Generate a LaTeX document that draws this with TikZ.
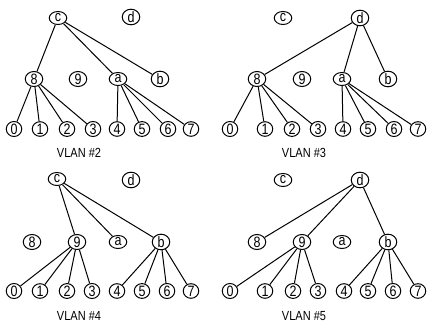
\documentclass[tikz,border=0pt]{standalone}
\usepackage{fontspec}
\setmainfont{Liberation Sans}
\usetikzlibrary{shapes.geometric}
% slightly tall lettering
\newcommand\tallglyph[1]{\scalebox{1}[1.2]{#1}}
\tikzset{
  switch/.style={draw, ellipse, line width=1pt, minimum width=17.5pt,
    minimum height=13pt, inner sep=0pt, font=\fontsize{12.5}{12.5}\selectfont},
  leaf/.style={switch, minimum width=15.5pt},
  link/.style={line width=1pt},
  vlanlabel/.style={font=\fontsize{11}{11}\selectfont, inner sep=0pt}
}
\begin{document}
\begin{tikzpicture}[x=1pt,y=-1pt]
\useasboundingbox (0,0) rectangle (432,326);

% ---------------- VLAN #2 ----------------
\node[switch] (ac) at (58,18) {\tallglyph{c}};
\node[switch] (ad) at (131,17) {\tallglyph{d}};
\node[switch] (a8) at (34,79) {\tallglyph{8}};
\node[switch] (a9) at (78,79) {\tallglyph{9}};
\node[switch] (aa) at (118,79) {\tallglyph{a}};
\node[switch] (ab) at (160,79) {\tallglyph{b}};
\foreach \n/\x in {0/14,1/40,2/67,3/93,4/117,5/142,6/168,7/191}
  \node[leaf] (al\n) at (\x,129) {\tallglyph{\n}};
\node[vlanlabel] (alabel) at (79,153) {\tallglyph{VLAN \#2}};
\draw[link] (ac) -- (a8);
\draw[link] (ac) -- (aa);
\draw[link] (ac) -- (ab);
\foreach \n in {0,...,3} \draw[link] (a8) -- (al\n);
\foreach \n in {4,...,7} \draw[link] (aa) -- (al\n);

% ---------------- VLAN #3 ----------------
\node[switch] (bc) at (283,18) {\tallglyph{c}};
\node[switch] (bd) at (360,18) {\tallglyph{d}};
\node[switch] (b8) at (257,79) {\tallglyph{8}};
\node[switch] (b9) at (302,79) {\tallglyph{9}};
\node[switch] (ba) at (342,79) {\tallglyph{a}};
\node[switch] (bb) at (388,79) {\tallglyph{b}};
\foreach \n/\x in {0/230,1/265,2/292,3/318,4/343,5/368,6/394,7/418}
  \node[leaf] (bl\n) at (\x,129) {\tallglyph{\n}};
\node[vlanlabel] (blabel) at (304,153) {\tallglyph{VLAN \#3}};
\draw[link] (bd) -- (b8);
\draw[link] (bd) -- (ba);
\draw[link] (bd) -- (bb);
\foreach \n in {0,...,3} \draw[link] (b8) -- (bl\n);
\foreach \n in {4,...,7} \draw[link] (ba) -- (bl\n);

% ---------------- VLAN #4 ----------------
\node[switch] (cc) at (57,179) {\tallglyph{c}};
\node[switch] (cd) at (131,180) {\tallglyph{d}};
\node[switch] (c8) at (32,242) {\tallglyph{8}};
\node[switch] (c9) at (77,242) {\tallglyph{9}};
\node[switch] (ca) at (118,242) {\tallglyph{a}};
\node[switch] (cb) at (161,242) {\tallglyph{b}};
\foreach \n/\x in {0/14,1/40,2/67,3/92,4/117,5/142,6/167,7/191}
  \node[leaf] (cl\n) at (\x,291) {\tallglyph{\n}};
\node[vlanlabel] (clabel) at (79,316) {\tallglyph{VLAN \#4}};
\draw[link] (cc) -- (c9);
\draw[link] (cc) -- (ca);
\draw[link] (cc) -- (cb);
\foreach \n in {0,...,3} \draw[link] (c9) -- (cl\n);
\foreach \n in {4,...,7} \draw[link] (cb) -- (cl\n);

% ---------------- VLAN #5 ----------------
\node[switch] (dc) at (283,180) {\tallglyph{c}};
\node[switch] (dd) at (360,180) {\tallglyph{d}};
\node[switch] (d8) at (257,242) {\tallglyph{8}};
\node[switch] (d9) at (302,242) {\tallglyph{9}};
\node[switch] (da) at (342,242) {\tallglyph{a}};
\node[switch] (db) at (388,242) {\tallglyph{b}};
\foreach \n/\x in {0/230,1/265,2/293,3/318,4/344,5/368,6/393,7/418}
  \node[leaf] (dl\n) at (\x,291) {\tallglyph{\n}};
\node[vlanlabel] (dlabel) at (304,316) {\tallglyph{VLAN \#5}};
\draw[link] (dd) -- (d8);
\draw[link] (dd) -- (d9);
\draw[link] (dd) -- (db);
\foreach \n in {0,...,3} \draw[link] (d9) -- (dl\n);
\foreach \n in {4,...,7} \draw[link] (db) -- (dl\n);
\end{tikzpicture}
\end{document}
